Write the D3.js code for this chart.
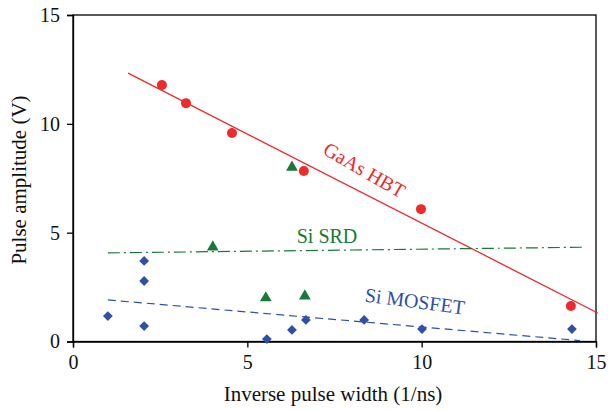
<!DOCTYPE html>
<html><head><meta charset="utf-8">
<script src="https://cdn.jsdelivr.net/npm/d3@7"></script>
<style>body{margin:0;background:#fff}svg{display:block}</style>
</head><body>
<script>
const gaasX = [2.55, 3.24, 4.56, 6.62, 9.98, 14.28];
const gaasY = [11.78, 10.95, 9.58, 7.83, 6.08, 1.63];
const srdX = [4.01, 6.28, 5.53, 6.65];
const srdY = [4.34, 8.0, 2.0, 2.09];
const mosX = [1.0, 2.04, 2.04, 2.04, 5.56, 6.28, 6.68, 8.35, 10.01, 14.31];
const mosY = [1.17, 3.7, 2.78, 0.71, 0.11, 0.53, 0.99, 0.99, 0.57, 0.57];
const gaasFit = [[1.58, 12.33], [15.05, 1.31]];
const srdFit = [[1.0, 4.07], [14.6, 4.33]];
const mosFit = [[1.0, 1.91], [14.54, 0.04]];
const xTicks = [0, 5, 10, 15];
const yTicks = [0, 5, 10, 15];

const FONT = "Liberation Serif";
const W = 608, H = 411;
const svg = d3.select("body").append("svg").attr("width", W).attr("height", H);
const x = d3.scaleLinear().domain([0, 15]).range([73, 596]);
const y = d3.scaleLinear().domain([0, 15]).range([341.5, 15]);

const red = "#ee2a2b", green = "#187a37", blue = "#2f4fa8";

svg.append("rect").attr("x", x(0)).attr("y", y(15)).attr("width", x(15) - x(0)).attr("height", y(0) - y(15))
  .attr("fill", "none").attr("stroke", "#000").attr("stroke-width", 1.3);

const xa = svg.append("g").attr("transform", `translate(0,${y(0)})`)
  .call(d3.axisBottom(x).tickValues(xTicks).tickSize(6).tickPadding(7).tickFormat(d3.format("d")));
const ya = svg.append("g").attr("transform", `translate(${x(0)},0)`)
  .call(d3.axisLeft(y).tickValues(yTicks).tickSize(6).tickPadding(7).tickFormat(d3.format("d")));
[xa, ya].forEach(a => {
  a.attr("font-family", FONT);
  a.select(".domain").attr("stroke-width", 1.3);
  a.selectAll(".tick line").attr("stroke-width", 1.3);
  a.selectAll("text").attr("font-family", FONT).style("font-family", FONT).style("font-size", "20px").attr("fill", "#111");
});

function label(sel, size, fill) {
  return sel.attr("font-family", FONT).style("font-family", FONT).style("font-size", size + "px").attr("fill", fill);
}
label(svg.append("text").attr("x", 333).attr("y", 401).attr("text-anchor", "middle"), 21, "#111")
  .text("Inverse pulse width (1/ns)");
label(svg.append("text").attr("transform", `translate(26,180) rotate(-90)`).attr("text-anchor", "middle"), 21, "#111")
  .text("Pulse amplitude (V)");

const line = d3.line().x(d => x(d[0])).y(d => y(d[1]));
svg.append("path").attr("d", line(gaasFit)).attr("stroke", red).attr("stroke-width", 1.3).attr("fill", "none");
svg.append("path").attr("d", line(srdFit)).attr("stroke", green).attr("stroke-width", 1.2).attr("fill", "none")
  .attr("stroke-dasharray", "12,4,2,4");
svg.append("path").attr("d", line(mosFit)).attr("stroke", blue).attr("stroke-width", 1.2).attr("fill", "none")
  .attr("stroke-dasharray", "8,5");

svg.append("g").selectAll("circle").data(gaasX).join("circle")
  .attr("cx", d => x(d)).attr("cy", (d, i) => y(gaasY[i])).attr("r", 5).attr("fill", red);
svg.append("g").selectAll("path").data(srdX).join("path")
  .attr("transform", (d, i) => `translate(${x(d)},${y(srdY[i])})`)
  .attr("d", d3.symbol(d3.symbolTriangle, 60)).attr("fill", green);
svg.append("g").selectAll("path").data(mosX).join("path")
  .attr("transform", (d, i) => `translate(${x(d)},${y(mosY[i])}) rotate(45)`)
  .attr("d", d3.symbol(d3.symbolSquare, 48)).attr("fill", blue);

label(svg.append("text").attr("transform", "translate(361,176) rotate(30)").attr("text-anchor", "middle"), 20, red)
  .text("GaAs HBT");
label(svg.append("text").attr("x", 327).attr("y", 243).attr("text-anchor", "middle"), 20, green)
  .text("Si SRD");
label(svg.append("text").attr("transform", "translate(414,308) rotate(7.5)").attr("text-anchor", "middle"), 20, blue)
  .text("Si MOSFET");
</script>
</body></html>
